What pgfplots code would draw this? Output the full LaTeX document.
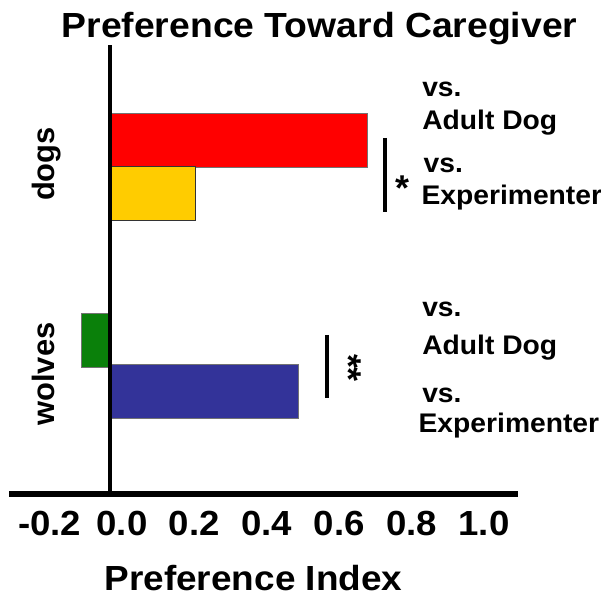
\documentclass[border=0pt]{standalone}
\usepackage{fontspec}
\setmainfont{Liberation Sans}
\usepackage{pgfplots}
\pgfplotsset{compat=1.18}
\definecolor{barred}{HTML}{FF0000}
\definecolor{baryellow}{HTML}{FFCC00}
\definecolor{bargreen}{HTML}{0A800A}
\definecolor{barblue}{HTML}{333399}
\newcommand{\bigf}{\fontsize{35}{40}\selectfont\bfseries}
\newcommand{\midf}{\fontsize{31}{36}\selectfont\bfseries}
\newcommand{\smallf}{\fontsize{27}{31}\selectfont\bfseries}
\newcommand{\starf}{\fontsize{36}{40}\selectfont\bfseries}
\begin{document}
\begin{tikzpicture}
\useasboundingbox (0,0) rectangle (601bp,597bp);
\begin{axis}[
  at={(9bp,103bp)}, anchor=south west,
  scale only axis, width=509bp, height=449bp,
  xmin=-0.279, xmax=1.127, ymin=103, ymax=552,
  axis x line=bottom, axis y line=none,
  x axis line style={line width=6bp,-},
  xtick={-0.2,0,0.2,0.4,0.6,0.8,1.0},
  xticklabels={-0.2,0.0,0.2,0.4,0.6,0.8,1.0},
  major tick length=0pt,
  xticklabel style={font=\bigf, anchor=base, xshift=12bp, yshift=-41bp, xscale=1.05},
  ytick=\empty,
  clip=false,
]
\addplot[xbar, bar shift=0pt, bar width=54, fill=barred, draw=black!55, line width=0.8bp] coordinates {(0.71,457)};
\addplot[xbar, bar shift=0pt, bar width=54, fill=baryellow, draw=black!80, line width=1bp] coordinates {(0.235,403)};
\addplot[xbar, bar shift=0pt, bar width=54, fill=bargreen, draw=black!55, line width=0.8bp] coordinates {(-0.08,256.5)};
\addplot[xbar, bar shift=0pt, bar width=54, fill=barblue, draw=black!55, line width=0.8bp] coordinates {(0.52,205.5)};
\draw[line width=4bp] (axis cs:0,103) -- (axis cs:0,552);
% significance
\draw[line width=4bp] (axis cs:0.76,459) -- (axis cs:0.76,385);
\node[font=\starf, anchor=center, inner sep=0pt] at (axis cs:0.808,409) {*};
\draw[line width=4bp] (axis cs:0.60,262) -- (axis cs:0.60,199);
\node[font=\starf, rotate=-90, anchor=center, inner sep=0pt] at (axis cs:0.66,229) {**};
% annotations
\node[font=\smallf, anchor=base west, inner sep=0pt, xscale=1.05] at (axis cs:0.862,500) {vs.};
\node[font=\smallf, anchor=base west, inner sep=0pt, xscale=1.05] at (axis cs:0.862,467) {Adult Dog};
\node[font=\smallf, anchor=base west, inner sep=0pt, xscale=1.05] at (axis cs:0.866,424) {vs.};
\node[font=\smallf, anchor=base west, inner sep=0pt, xscale=1.05] at (axis cs:0.860,392) {Experimenter};
\node[font=\smallf, anchor=base west, inner sep=0pt, xscale=1.05] at (axis cs:0.862,280) {vs.};
\node[font=\smallf, anchor=base west, inner sep=0pt, xscale=1.05] at (axis cs:0.862,242) {Adult Dog};
\node[font=\smallf, anchor=base west, inner sep=0pt, xscale=1.05] at (axis cs:0.862,194) {vs.};
\node[font=\smallf, anchor=base west, inner sep=0pt, xscale=1.05] at (axis cs:0.852,164) {Experimenter};
% group labels
\node[font=\midf, rotate=90, anchor=base, inner sep=0pt] at (axis cs:-0.152,433) {dogs};
\node[font=\midf, rotate=90, anchor=base, inner sep=0pt] at (axis cs:-0.152,223) {wolves};
\end{axis}
\node[font=\bigf, anchor=base, xscale=1.07] at (319.5bp,559bp) {Preference Toward Caregiver};
\node[font=\bigf, anchor=base, xscale=1.06] at (253.5bp,7bp) {Preference Index};
\end{tikzpicture}
\end{document}
